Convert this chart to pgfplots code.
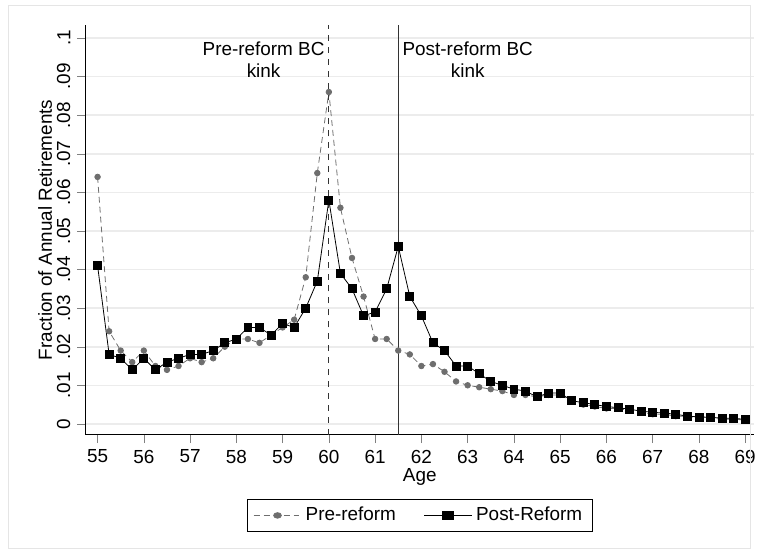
\documentclass[border=0pt]{standalone}
\usepackage{pgfplots}
\pgfplotsset{compat=1.18}
\usepackage{fontspec}
\setmainfont{Liberation Sans}
\definecolor{pre}{RGB}{110,110,110}
\begin{document}
\fontsize{9.5}{11}\selectfont
\begin{tikzpicture}
\begin{axis}[
 scale only axis, width=336pt, height=206pt,
 xmin=54.74, xmax=69.19, ymin=-0.0028, ymax=0.1034,
 axis lines*=left, tick align=outside,
 xtick={55,...,69}, ytick={0,0.01,...,0.1},
 yticklabels={0,.01,.02,.03,.04,.05,.06,.07,.08,.09,.1},
 yticklabel style={rotate=90, anchor=south},
 ymajorgrids, grid style={gray!15, line width=0.8pt},
 xlabel={Age}, ylabel={Fraction of Annual Retirements},
 xlabel style={yshift=4pt}, ylabel style={yshift=-4pt},
 /pgf/number format/assume math mode=true,
 legend style={at={(rel axis cs:0.5,-0.197)}, anchor=center, legend columns=2, draw=black, /tikz/every even column/.append style={column sep=12pt}},
 legend image post style={xscale=1.4},
 legend cell align=left,
]
\addplot[pre, densely dashed, mark=*, mark size=1.4pt, mark options={solid}] coordinates {
(55,.064)(55.25,.024)(55.5,.019)(55.75,.016)(56,.019)(56.25,.015)(56.5,.014)(56.75,.015)
(57,.017)(57.25,.016)(57.5,.017)(57.75,.020)(58,.022)(58.25,.022)(58.5,.021)(58.75,.023)
(59,.025)(59.25,.027)(59.5,.038)(59.75,.065)(60,.086)(60.25,.056)(60.5,.043)(60.75,.033)
(61,.022)(61.25,.022)(61.5,.019)(61.75,.018)(62,.015)(62.25,.0155)(62.5,.0135)(62.75,.011)
(63,.010)(63.25,.0095)(63.5,.009)(63.75,.0085)(64,.0075)(64.25,.0075)(64.5,.0070)(64.75,.0075)
(65,.0075)(65.25,.006)(65.5,.005)(65.75,.0045)(66,.004)(66.25,.004)(66.5,.0035)(66.75,.003)
(67,.0025)(67.25,.0025)(67.5,.002)(67.75,.002)(68,.0015)(68.25,.0015)(68.5,.0012)(68.75,.0012)(69,.001)};
\addlegendentry{Pre-reform}
\addplot[black, mark=square*, mark size=2pt] coordinates {
(55,.041)(55.25,.018)(55.5,.017)(55.75,.014)(56,.017)(56.25,.014)(56.5,.016)(56.75,.017)
(57,.018)(57.25,.018)(57.5,.019)(57.75,.021)(58,.022)(58.25,.025)(58.5,.025)(58.75,.023)
(59,.026)(59.25,.025)(59.5,.030)(59.75,.037)(60,.058)(60.25,.039)(60.5,.035)(60.75,.028)
(61,.029)(61.25,.035)(61.5,.046)(61.75,.033)(62,.028)(62.25,.021)(62.5,.019)(62.75,.015)
(63,.015)(63.25,.013)(63.5,.011)(63.75,.010)(64,.009)(64.25,.0085)(64.5,.007)(64.75,.008)
(65,.008)(65.25,.006)(65.5,.0055)(65.75,.005)(66,.0045)(66.25,.0042)(66.5,.0038)(66.75,.0033)
(67,.003)(67.25,.0028)(67.5,.0025)(67.75,.002)(68,.0018)(68.25,.0017)(68.5,.0015)(68.75,.0014)(69,.0012)};
\addlegendentry{Post-Reform}
\addplot[black!80, dashed, forget plot] coordinates {(60,-0.0028)(60,0.1034)};
\addplot[black!80, forget plot] coordinates {(61.5,-0.0028)(61.5,0.1034)};
\node[anchor=north east, align=center, inner sep=1pt, xshift=-1pt] at (axis cs:60,0.0995) {Pre-reform BC\\kink};
\node[anchor=north west, align=center, inner sep=1pt, xshift=1pt] at (axis cs:61.5,0.0995) {Post-reform BC\\kink};
\end{axis}
\draw[gray!20] (-39pt,-57pt) rectangle (334pt,216pt);
\path[use as bounding box] (-43pt,-61pt) rectangle (338pt,218.5pt);
\end{tikzpicture}
\end{document}
